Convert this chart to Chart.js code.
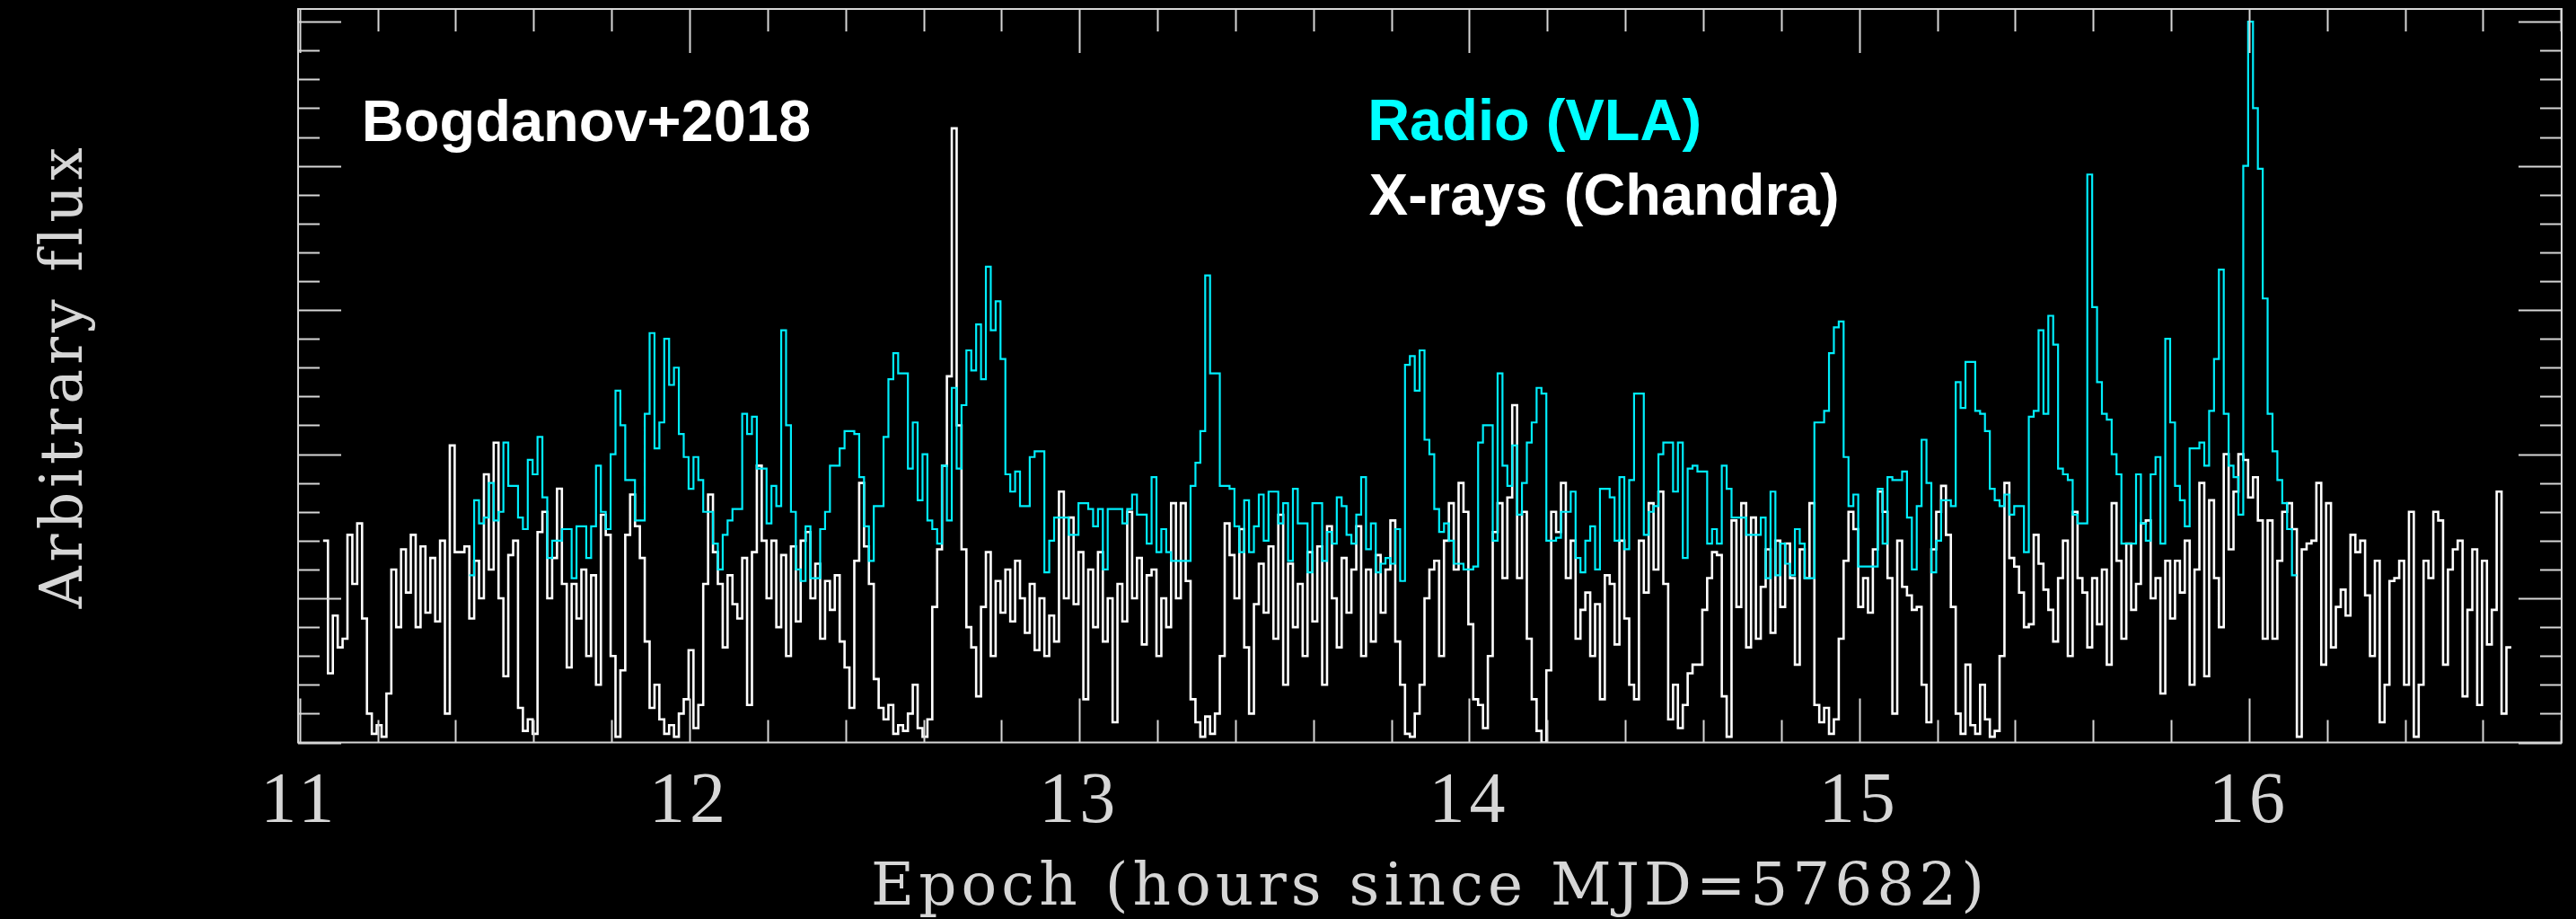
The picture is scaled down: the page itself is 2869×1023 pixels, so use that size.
<!DOCTYPE html>
<html lang="en">
<head>
  <meta charset="UTF-8" />
  <title>Bogdanov+2018 light curves</title>
  <script src="https://cdn.jsdelivr.net/npm/chart.js"></script>
  <style>
    html, body { margin: 0; padding: 0; background: #000; }
    canvas { display: block; }
  </style>
</head>
<body>
  <canvas id="curves" width="2869" height="1023"></canvas>

  <script>
    // hour ticks on the epoch axis (hours since MJD=57682)
    const hourTicks = [11, 12, 13, 14, 15, 16];

    // Chandra X-ray light curve: first bin start and bin width in hours
    const xrayStart = 11.06;
    const xrayBin = 0.0125;
    const xrayFlux = [
      7.0, 2.4, 4.4, 3.3, 3.6, 7.2, 5.5, 7.6, 4.3, 1.0,
      0.3, 0.6, 0.2, 1.7, 6.0, 4.0, 6.7, 5.2, 7.2, 4.0,
      6.8, 4.5, 6.4, 4.2, 7.0, 1.0, 10.3, 6.6, 6.6, 6.8,
      4.3, 6.3, 5.0, 9.3, 6.0, 10.4, 5.0, 2.3, 6.5, 7.0,
      1.2, 0.4, 0.8, 0.3, 7.3, 8.0, 5.0, 6.4, 8.8, 5.5,
      2.6, 5.5, 4.3, 6.0, 3.0, 5.8, 2.0, 7.9, 7.2, 3.0,
      0.2, 2.5, 7.2, 8.6, 7.5, 6.4, 3.5, 1.2, 2.0, 0.8,
      0.3, 0.6, 0.2, 1.0, 1.5, 3.2, 0.5, 1.3, 5.5, 8.6,
      6.6, 5.5, 3.3, 5.8, 4.8, 4.3, 6.4, 1.3, 6.6, 9.6,
      7.0, 5.0, 7.0, 4.0, 6.5, 3.0, 6.8, 4.2, 7.0, 7.3,
      5.0, 6.2, 3.6, 5.6, 4.6, 5.8, 3.5, 2.6, 1.2, 6.3,
      9.0, 6.8, 5.5, 2.2, 1.2, 0.8, 1.3, 0.3, 0.6, 0.4,
      1.0, 2.0, 0.5, 0.2, 0.8, 4.7, 6.7, 9.6, 12.7, 21.3,
      11.0, 6.7, 4.0, 3.3, 1.6, 4.7, 6.6, 3.0, 5.6, 4.5,
      6.0, 4.2, 6.3, 5.0, 3.8, 5.5, 3.2, 5.0, 3.0, 4.4,
      3.5, 8.7, 5.0, 7.8, 4.8, 6.6, 1.5, 6.0, 4.0, 6.6,
      3.5, 5.0, 0.7, 5.5, 4.2, 8.0, 5.0, 6.4, 3.4, 5.8,
      6.0, 3.0, 5.0, 4.0, 8.3, 5.0, 8.3, 5.6, 1.5, 0.7,
      0.2, 0.9, 0.3, 1.0, 3.0, 7.6, 6.5, 5.0, 7.4, 3.3,
      1.0, 4.8, 6.2, 4.5, 6.8, 3.6, 7.9, 2.0, 6.2, 4.0,
      5.5, 3.0, 6.6, 4.2, 6.8, 2.0, 7.5, 5.0, 3.3, 6.4,
      4.5, 6.0, 7.5, 3.0, 6.0, 3.5, 6.5, 4.5, 6.0, 7.7,
      3.5, 2.0, 0.3, 0.2, 1.0, 2.0, 5.0, 6.0, 6.3, 3.0,
      7.0, 8.3, 6.0, 9.0, 8.0, 4.1, 1.5, 1.3, 0.5, 3.0,
      7.3, 8.3, 5.7, 8.5, 11.7, 5.7, 8.0, 3.6, 1.5, 0.4,
      0.0, 2.5, 8.0, 7.3, 9.0, 5.7, 7.0, 3.6, 4.6, 5.2,
      3.0, 4.8, 1.5, 5.8, 5.5, 3.4, 7.0, 4.3, 2.0, 1.5,
      7.0, 5.2, 8.3, 6.0, 8.7, 5.5, 0.8, 2.0, 0.5, 1.3,
      2.4, 2.7, 2.7, 4.6, 5.7, 6.6, 6.5, 1.6, 0.2, 7.7,
      4.7, 8.3, 3.3, 7.8, 3.6, 5.4, 6.7, 3.8, 7.0, 4.7,
      6.9, 5.7, 2.7, 6.7, 5.7, 8.3, 1.3, 0.7, 1.2, 0.3,
      0.8, 3.6, 6.3, 8.0, 7.4, 4.7, 5.7, 4.5, 6.7, 8.7,
      8.0, 5.7, 1.0, 7.0, 5.4, 5.1, 4.6, 4.7, 2.0, 0.7,
      6.7, 8.0, 8.9, 7.2, 4.7, 1.0, 0.3, 2.7, 0.6, 0.3,
      2.0, 0.8, 0.2, 0.4, 3.0, 9.0, 6.4, 6.1, 5.2, 4.0,
      4.1, 7.2, 6.2, 5.3, 4.6, 3.5, 5.7, 7.0, 3.0, 8.0,
      5.7, 5.2, 3.3, 5.7, 4.1, 6.0, 2.7, 8.3, 6.3, 3.6,
      6.9, 4.6, 5.5, 7.6, 7.7, 5.0, 5.7, 1.7, 6.3, 4.3,
      6.3, 5.2, 7.0, 2.0, 6.0, 9.0, 2.3, 8.4, 5.7, 4.0,
      10.0, 6.7, 8.7, 10.0, 9.8, 8.5, 9.2, 7.7, 3.6, 7.7,
      3.6, 6.3, 8.0, 8.3, 7.4, 0.2, 6.7, 6.9, 7.0, 9.0,
      2.7, 8.3, 3.3, 4.7, 5.3, 4.4, 7.2, 6.6, 7.0, 5.1,
      3.0, 6.3, 0.7, 2.0, 5.6, 5.7, 6.3, 2.0, 8.0, 0.2,
      2.0, 6.3, 5.7, 8.0, 7.7, 2.7, 6.0, 6.7, 7.0, 1.6,
      4.6, 6.7, 1.3, 6.3, 3.4, 4.6, 8.7, 1.0, 3.3
    ];

    // VLA radio light curve
    const radioStart = 11.435;
    const radioBin = 0.0125;
    const radioFlux = [
      5.8, 8.4, 7.6, 7.8, 9.0, 7.7, 8.0, 10.4, 8.9, 8.9,
      7.8, 7.4, 9.8, 9.3, 10.6, 8.5, 6.4, 7.0, 7.0, 7.4,
      7.4, 5.7, 7.5, 7.5, 6.4, 7.5, 9.6, 8.0, 7.4, 10.0,
      12.2, 11.0, 9.1, 9.1, 7.7, 7.7, 11.4, 14.2, 10.2, 11.1,
      14.0, 12.4, 13.0, 10.7, 9.9, 8.8, 9.9, 9.1, 8.0, 8.0,
      6.9, 6.0, 7.2, 7.7, 8.1, 8.1, 11.4, 10.7, 11.3, 9.5,
      9.5, 7.6, 8.9, 8.2, 14.3, 11.0, 8.0, 6.0, 5.6, 7.5,
      5.7, 5.7, 7.4, 8.0, 9.6, 9.6, 10.2, 10.8, 10.8, 10.7,
      9.2, 7.5, 6.3, 8.2, 8.2, 10.6, 12.6, 13.5, 12.8, 12.8,
      9.5, 11.1, 8.4, 10.0, 7.7, 7.4, 6.9, 9.6, 7.7, 12.3,
      9.5, 11.7, 13.6, 12.9, 14.5, 12.6, 16.5, 14.3, 15.3, 13.3,
      9.3, 8.7, 9.4, 8.2, 8.2, 9.9, 10.1, 10.1, 5.9, 7.0,
      7.8, 7.8, 7.8, 7.2, 7.2, 8.3, 8.3, 8.1, 7.5, 8.1,
      6.0, 8.1, 8.1, 8.1, 7.6, 8.1, 8.6, 7.9, 7.9, 6.9,
      9.2, 6.6, 7.4, 6.6, 6.3, 6.3, 6.3, 6.3, 8.9, 9.7,
      10.8, 16.2, 12.8, 12.8, 8.9, 8.9, 8.8, 7.5, 6.6, 8.4,
      6.6, 7.5, 8.6, 7.0, 8.7, 8.7, 7.6, 8.3, 6.3, 8.8,
      7.6, 7.6, 5.9, 8.3, 8.3, 6.3, 7.3, 6.9, 8.5, 8.2,
      7.2, 6.9, 7.9, 9.2, 6.7, 7.6, 5.9, 6.2, 6.4, 6.2,
      7.4, 5.6, 13.1, 13.4, 12.2, 13.6, 10.5, 10.0, 8.1, 7.3,
      7.6, 7.0, 6.2, 6.2, 6.0, 6.0, 6.1, 10.4, 11.0, 11.0,
      7.0, 12.8, 9.6, 8.9, 10.3, 7.9, 9.0, 10.4, 11.1, 12.3,
      12.1, 7.0, 7.0, 7.1, 8.0, 8.0, 8.7, 6.4, 5.9, 7.0,
      7.5, 6.0, 8.8, 8.8, 8.5, 7.0, 9.2, 6.7, 9.1, 12.1,
      12.1, 7.2, 8.0, 8.2, 10.0, 10.4, 10.4, 8.7, 10.4, 6.4,
      9.5, 9.6, 9.4, 9.4, 6.9, 7.4, 6.9, 9.6, 8.8, 7.8,
      7.8, 7.8, 7.2, 7.2, 7.2, 7.8, 5.7, 8.7, 5.8, 6.9,
      6.2, 5.8, 7.4, 6.9, 5.7, 5.7, 11.1, 11.1, 11.5, 13.5,
      14.4, 14.6, 9.9, 8.2, 8.6, 6.1, 6.1, 6.1, 6.1, 8.8,
      6.9, 9.2, 9.1, 9.1, 9.4, 7.8, 6.0, 8.2, 10.5, 9.0,
      5.9, 7.0, 8.4, 8.4, 8.2, 12.5, 11.6, 13.2, 13.2, 11.5,
      11.4, 10.8, 8.8, 8.4, 8.2, 8.6, 7.9, 8.2, 8.2, 6.6,
      11.3, 11.5, 14.3, 11.4, 14.8, 13.8, 9.5, 9.3, 9.1, 7.9,
      7.6, 7.6, 19.7, 15.1, 12.5, 11.4, 11.2, 10.0, 9.3, 6.9,
      6.9, 6.9, 9.3, 7.6, 7.0, 9.3, 9.9, 6.9, 14.0, 11.1,
      8.9, 8.4, 7.5, 10.2, 10.2, 10.4, 9.6, 11.5, 13.3, 16.4,
      11.4, 9.6, 9.2, 7.9, 20.0, 25.0, 22.0, 19.9, 15.4, 11.4,
      10.1, 9.1, 8.3, 7.4, 5.8
    ];

    // histogram bins -> step points (bin left edges plus closing edge)
    function binPoints(start, width, flux) {
      const pts = flux.map((v, i) => ({ x: start + i * width, y: v }));
      pts.push({ x: start + flux.length * width, y: flux[flux.length - 1] });
      return pts;
    }

    const axisGray = "#d6d6d6";
    const cyan = "#00eefc";

    // in-plot labels, placed in data coordinates
    const notes = [
      { text: "Bogdanov+2018", x: 11.159, y: 20.87, color: "#ffffff" },
      { text: "Radio (VLA)", x: 13.739, y: 20.89, color: "#00ffff" },
      { text: "X-rays (Chandra)", x: 13.743, y: 18.32, color: "#ffffff" }
    ];

    // PGPLOT-like box: inward ticks on all four sides, plus the labels
    const boxPlugin = {
      id: "boxPlugin",
      beforeDraw(chart) {
        chart.ctx.letterSpacing = "5px";
      },
      afterDraw(chart) {
        const { ctx, chartArea: a, scales: { x, y } } = chart;
        ctx.save();
        ctx.letterSpacing = "0px";
        ctx.strokeStyle = axisGray;
        ctx.lineWidth = 2;
        ctx.strokeRect(a.left, a.top, a.right - a.left, a.bottom - a.top);

        ctx.beginPath();
        for (let k = 0; k <= 29; k++) {
          const v = 11 + k * 0.2;
          const px = Math.round(x.getPixelForValue(v)) + 0.5;
          const len = k % 5 === 0 ? 49 : 25;
          ctx.moveTo(px, a.bottom); ctx.lineTo(px, a.bottom - len);
          ctx.moveTo(px, a.top); ctx.lineTo(px, a.top + len);
        }
        for (let v = 0; v <= 25; v++) {
          const py = Math.round(y.getPixelForValue(v)) + 0.5;
          const len = v % 5 === 0 ? 48 : 24;
          ctx.moveTo(a.left, py); ctx.lineTo(a.left + len, py);
          ctx.moveTo(a.right, py); ctx.lineTo(a.right - len, py);
        }
        ctx.stroke();

        ctx.font = "bold 65px 'Liberation Sans', Arial, sans-serif";
        ctx.textBaseline = "alphabetic";
        ctx.textAlign = "left";
        notes.forEach(n => {
          ctx.fillStyle = n.color;
          ctx.fillText(n.text, x.getPixelForValue(n.x), y.getPixelForValue(n.y));
        });
        ctx.restore();
      }
    };

    new Chart(document.getElementById("curves"), {
      type: "line",
      data: {
        datasets: [
          {
            label: "Radio (VLA)",
            data: binPoints(radioStart, radioBin, radioFlux),
            borderColor: cyan,
            borderWidth: 2.2,
            stepped: true,
            pointRadius: 0,
            fill: false
          },
          {
            label: "X-rays (Chandra)",
            data: binPoints(xrayStart, xrayBin, xrayFlux),
            borderColor: "#ffffff",
            borderWidth: 2.6,
            stepped: true,
            pointRadius: 0,
            fill: false
          }
        ]
      },
      options: {
        responsive: false,
        devicePixelRatio: 1,
        animation: false,
        parsing: false,
        layout: { padding: { top: 10, right: 16, bottom: 0, left: 0 } },
        plugins: {
          legend: { display: false },
          tooltip: { enabled: false }
        },
        scales: {
          x: {
            type: "linear",
            min: 10.9959,
            max: 16.8016,
            grid: { display: false, drawTicks: false },
            border: { display: false },
            afterBuildTicks: s => { s.ticks = hourTicks.map(v => ({ value: v })); },
            afterFit: s => { s.height = 196.5; },
            ticks: {
              autoSkip: false,
              maxRotation: 0,
              padding: 27,
              color: axisGray,
              font: { family: "'Liberation Serif', serif", size: 80, lineHeight: 1 },
              callback: v => String(v)
            },
            title: {
              display: true,
              text: "Epoch (hours since MJD=57682)",
              color: axisGray,
              padding: { top: 0, bottom: 0 },
              font: { family: "'DejaVu Serif', serif", size: 66, lineHeight: 1 }
            }
          },
          y: {
            min: 0,
            max: 25.44,
            grid: { display: false, drawTicks: false },
            border: { display: false },
            afterFit: s => { s.width = 332; },
            ticks: { display: false },
            title: {
              display: true,
              text: "Arbitrary flux",
              color: axisGray,
              padding: { top: 42, bottom: 0 },
              font: { family: "'DejaVu Serif', serif", size: 65, lineHeight: 1 }
            }
          }
        }
      },
      plugins: [boxPlugin]
    });
  </script>
</body>
</html>
